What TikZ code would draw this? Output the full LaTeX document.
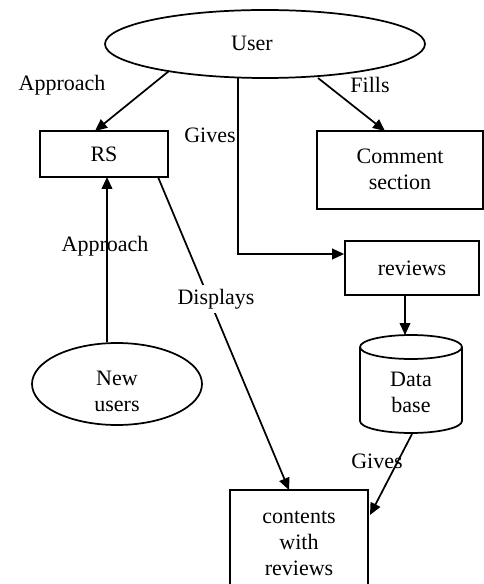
\documentclass[tikz,border=0pt]{standalone}
\usepackage{fontspec}
\setmainfont{Liberation Serif}
\usetikzlibrary{shapes.geometric,arrows.meta}
\begin{document}
\begin{tikzpicture}[x=0.75pt,y=-0.75pt,
  line width=1.3pt,
  every node/.style={font=\fontsize{16.5}{19.5}\selectfont},
  box/.style={draw,rectangle,inner sep=0pt},
  oval/.style={draw,ellipse,inner sep=0pt},
  txt/.style={align=center,inner sep=1pt},
  flow/.style={-{Triangle[length=9pt,width=8pt]}}]
\useasboundingbox (0,0) rectangle (484,584);

% boxes and ovals
\node[oval,minimum width=240pt,minimum height=51pt] (user) at (265,44) {};
\node[txt] (usertxt) at (252,43) {User};
\node[box,minimum width=96pt,minimum height=34.5pt] (rs) at (104,154) {RS};
\node[box,minimum width=124.5pt,minimum height=58.5pt] (comment) at (400,170) {};
\node[txt] (commenttxt) at (400,169) {Comment\\section};
\node[box,minimum width=100.5pt,minimum height=40.5pt] (reviews) at (412,268) {reviews};
\node[oval,minimum width=127.5pt,minimum height=61.5pt] (newusers) at (117,384) {};
\node[txt] (newtxt) at (117,391) {New\\users};
\node[box,minimum width=103.5pt,minimum height=72pt] (contents) at (299,538) {};
\node[txt] (contentstxt) at (299,543) {contents\\with\\reviews};

% database cylinder
\coordinate (dbtop) at (411,335);
\coordinate (dbbot) at (411,433);
\draw (360,347) arc[start angle=180,end angle=-180,x radius=51,y radius=12];
\draw (360,347) -- (360,421) arc[start angle=180,end angle=0,x radius=51,y radius=12] -- (462,347);
\node[txt] (dbtxt) at (411,392) {Data\\base};

% connectors
\coordinate (u1) at (169,71);
\coordinate (u2) at (238,78);
\coordinate (u3) at (318,78);
\coordinate (bend) at (238,254);
\draw[flow] (u1) -- (95,131);
\draw[flow] (u3) -- (385,131);
\draw[flow] (u2) -- (bend) -- (reviews.west |- bend);
\draw[flow] (newusers.north -| 107,0) -- (107,177);
\coordinate (rsout) at (158,177);
\coordinate (cin) at (289,490);
\draw[flow] (rsout) -- (cin);
\draw[flow] (reviews.south -| 405,0) -- (405,335);
\coordinate (dbout) at (412,434);
\coordinate (cright) at (370,515);
\draw[flow] (dbout) -- (cright);

% labels
\node[txt] (lapp1) at (62,85) {Approach};
\node[txt] (lfills) at (370,85) {Fills};
\node[txt] (lgives1) at (210,135) {Gives};
\node[txt] (lapp2) at (105,246) {Approach};
\node[txt,fill=white,inner sep=3pt] (ldisp) at (216,299) {Displays};
\node[txt] (lgives2) at (377,461) {Gives};
\end{tikzpicture}
\end{document}
